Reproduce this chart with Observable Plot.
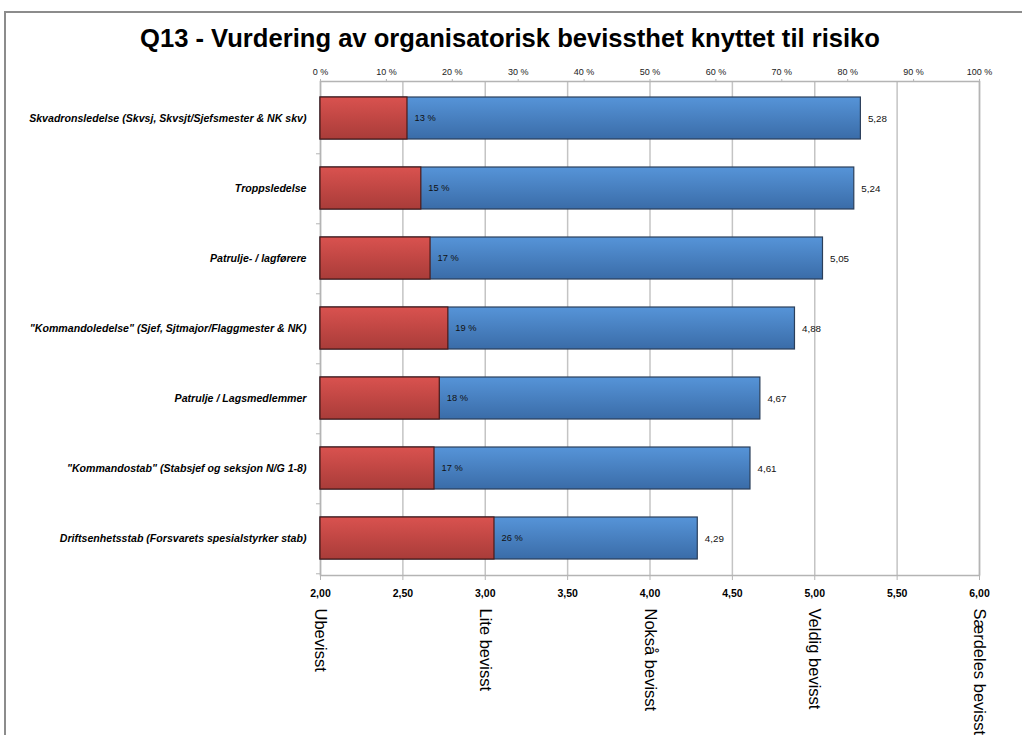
<!DOCTYPE html>
<html><head><meta charset="utf-8">
<script src="https://cdn.jsdelivr.net/npm/d3@7"></script>
<script src="https://cdn.jsdelivr.net/npm/@observablehq/plot@0.6"></script>
<style>
body{margin:0;background:#fff;}
#wrap{position:relative;width:1022px;height:735px;overflow:hidden;background:#fff;}
#frame{position:absolute;left:4px;top:11px;width:1100px;height:800px;border-left:2px solid #8c8c8c;border-top:2px solid #8c8c8c;}
#chart{position:absolute;left:0;top:0;}
#title{position:absolute;left:0;top:0;}
</style></head><body>
<div id="wrap"><div id="frame"></div><div id="chart"></div>
<svg id="title" width="1022" height="64"><text id="ttext" x="510" y="47" text-anchor="middle" font-family="'Liberation Sans Narrow','Liberation Sans',Arial,sans-serif" font-weight="bold" font-size="26" textLength="740" lengthAdjust="spacingAndGlyphs"></text></svg>
</div>
<script>
const titleText = "Q13 - Vurdering av organisatorisk bevissthet knyttet til risiko";
const categories = [
  "Skvadronsledelse (Skvsj, Skvsjt/Sjefsmester & NK skv)",
  "Troppsledelse",
  "Patrulje- / lagførere",
  "\"Kommandoledelse\" (Sjef, Sjtmajor/Flaggmester & NK)",
  "Patrulje / Lagsmedlemmer",
  "\"Kommandostab\" (Stabsjef og seksjon N/G 1-8)",
  "Driftsenhetsstab (Forsvarets spesialstyrker stab)"
];
const means = [5.28, 5.24, 5.05, 4.88, 4.67, 4.61, 4.29];
const pcts = [13.2, 15.3, 16.7, 19.4, 18.1, 17.3, 26.4];
const scaleTicks = [2.0, 2.5, 3.0, 3.5, 4.0, 4.5, 5.0, 5.5, 6.0];
const pctTicks = [0, 10, 20, 30, 40, 50, 60, 70, 80, 90, 100];
const levelLabels = ["Ubevisst", "Lite bevisst", "Nokså bevisst", "Veldig bevisst", "Særdeles bevisst"];
const levelValues = [2, 3, 4, 5, 6];

document.getElementById("ttext").textContent = titleText;

const toX = p => 2 + p * 4 / 100;
const rows = categories.map((c, i) => ({cat: c, mean: means[i], pct: pcts[i]}));
const halfStep = (735 - 81 - 160) / categories.length / 2;

const chart = Plot.plot({
  width: 1022, height: 735,
  marginLeft: 320, marginRight: 43, marginTop: 81, marginBottom: 160,
  x: {domain: [2, 6]},
  y: {domain: categories, paddingInner: 0.4, paddingOuter: 0.2},
  style: {fontFamily: "'Liberation Sans', Arial, sans-serif", color: "#000", background: "transparent", overflow: "visible"},
  marks: [
    Plot.gridX(scaleTicks, {stroke: "#c4c4c4", strokeOpacity: 1, strokeWidth: 1.5}),
    Plot.frame({stroke: "#b4b4b4", strokeWidth: 1.5}),
    Plot.barX(rows, {y: "cat", x1: 2, x2: "mean", fill: "url(#gBlue)", stroke: "#2b3f5a", strokeWidth: 1.2}),
    Plot.barX(rows, {y: "cat", x1: 2, x2: d => toX(d.pct), fill: "url(#gRed)", stroke: "#4a1a18", strokeWidth: 1.2}),
    Plot.text(rows, {y: "cat", x: d => toX(d.pct), text: d => Math.round(d.pct) + " %", dx: 7, textAnchor: "start", fontSize: 9.3, fill: "#111"}),
    Plot.text(rows, {y: "cat", x: "mean", text: d => d.mean.toFixed(2).replace(".", ","), dx: 7, textAnchor: "start", fontSize: 9.8, fill: "#111"}),
    Plot.axisX({anchor: "top", ticks: pctTicks.map(toX), tickFormat: (v, i) => pctTicks[i] + " %", tickSize: 3, tickPadding: 4, fontSize: 9, stroke: "#b4b4b4", fill: "#222", label: null}),
    Plot.axisX({anchor: "bottom", ticks: scaleTicks, tickFormat: v => v.toFixed(2).replace(".", ","), tickSize: 5, tickPadding: 9, fontSize: 10.5, fontWeight: "bold", stroke: "#b4b4b4", fill: "#000", label: null}),
    Plot.axisY({tickSize: 0, tickPadding: 14, fontSize: 10.6, fontWeight: "bold", fontStyle: "italic", fill: "#000", label: null}),
    Plot.axisY({tickSize: 4, tickFormat: () => "", dy: halfStep, stroke: "#b4b4b4", label: null}),
    Plot.text(levelLabels, {x: (d, i) => levelValues[i], frameAnchor: "bottom", text: d => d, rotate: 90, textAnchor: "start", lineAnchor: "middle", dy: 33, fontSize: 16.5, fill: "#000"})
  ]
});

const defs = d3.select(chart).insert("defs", ":first-child");
const gb = defs.append("linearGradient").attr("id", "gBlue").attr("x1", 0).attr("y1", 0).attr("x2", 0).attr("y2", 1);
gb.append("stop").attr("offset", 0).attr("stop-color", "#5694d8");
gb.append("stop").attr("offset", 1).attr("stop-color", "#3a6ca8");
const gr = defs.append("linearGradient").attr("id", "gRed").attr("x1", 0).attr("y1", 0).attr("x2", 0).attr("y2", 1);
gr.append("stop").attr("offset", 0).attr("stop-color", "#d9524f");
gr.append("stop").attr("offset", 1).attr("stop-color", "#a93c39");

document.getElementById("chart").appendChild(chart);
</script>
</body></html>
